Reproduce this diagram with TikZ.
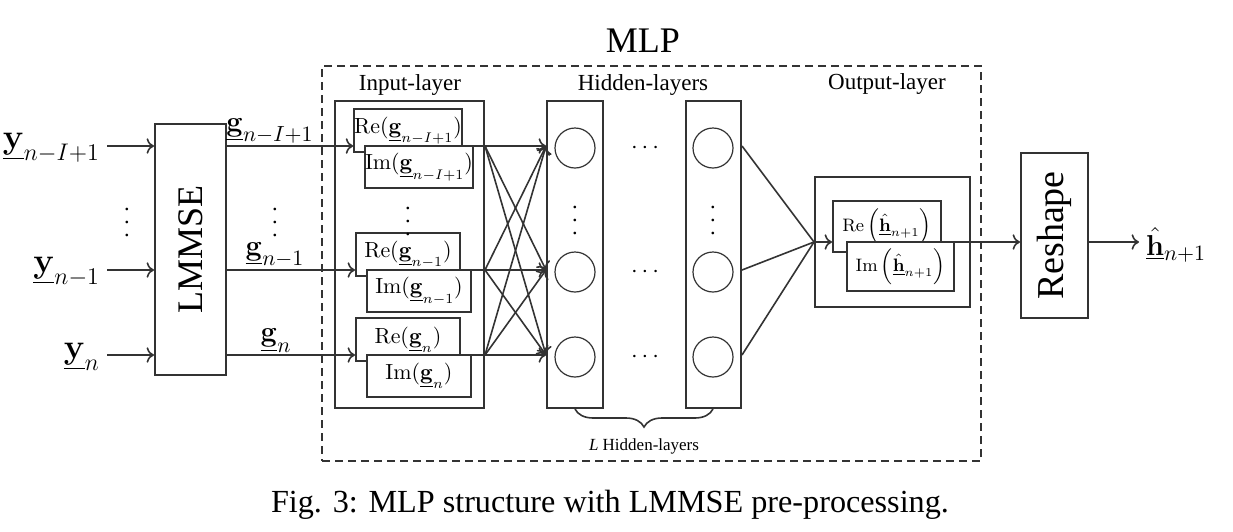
\documentclass[tikz,border=0pt]{standalone}
\usepackage[no-math]{fontspec}
\setmainfont{Liberation Serif}
\usetikzlibrary{arrows.meta}
\usetikzlibrary{decorations.pathreplacing}

\tikzset{
  blk/.style={draw=black!80, line width=1pt, fill=white, inner sep=0pt},
  neuron/.style={draw=black!80, line width=0.6pt, circle, minimum size=20pt, inner sep=0pt},
  wire/.style={draw=black!80, line width=0.8pt},
  >={To[scale=1.1]},
}

\begin{document}
\begin{tikzpicture}[x=0.5pt,y=-0.5pt]
  \useasboundingbox (0,0) rectangle (1233,531);
  % row levels
  \coordinate (rI) at (0,146);
  \coordinate (r1) at (0,270);
  \coordinate (rn) at (0,355);
  \coordinate (ro) at (0,242);

  % MLP frame
  \node[draw=black!80, line width=1pt, dash pattern=on 4pt off 2.5pt, minimum width=329.5pt, minimum height=197.5pt] (mlp) at (651.5,263.5) {};
  \node[font=\fontsize{18}{20}\selectfont] (mlptxt) at (643,41) {MLP};

  % LMMSE
  \node[blk, minimum width=35.5pt, minimum height=125.5pt, font=\fontsize{18}{20}\selectfont] (lmmse) at (190.5,249.5) {\rotatebox{90}{LMMSE}};
  \node[anchor=east, font=\fontsize{17}{19}\selectfont] (yI) at (107,148) {$\underline{\mathbf{y}}_{n-I+1}$};
  \node[anchor=east, font=\fontsize{17}{19}\selectfont] (y1) at (107,272) {$\underline{\mathbf{y}}_{n-1}$};
  \node[anchor=east, font=\fontsize{17}{19}\selectfont] (yn) at (107,357) {$\underline{\mathbf{y}}_{n}$};
  \node[font=\fontsize{7}{8}\selectfont] (ydots) at (127,213) {\scalebox{1.6}{$\vdots$}};
  \draw[wire,->] (yI.east |- rI) -- (rI -| lmmse.west);
  \draw[wire,->] (y1.east |- r1) -- (r1 -| lmmse.west);
  \draw[wire,->] (yn.east |- rn) -- (rn -| lmmse.west);

  % input layer
  \node[blk, minimum width=74.5pt, minimum height=153.5pt] (inp) at (409.5,254.5) {};
  \node[font=\fontsize{11.5}{13}\selectfont] (inptxt) at (410,85) {Input-layer};
  \node[blk, minimum width=52pt, minimum height=21.5pt, font=\fontsize{10.5}{12}\selectfont] (reI) at (408,130.5) {$\mathrm{Re}(\underline{\mathbf{g}}_{n-I+1})$};
  \node[blk, minimum width=52pt, minimum height=21pt, font=\fontsize{10.5}{12}\selectfont] (imI) at (419,167) {$\mathrm{Im}(\underline{\mathbf{g}}_{n-I+1})$};
  \node[blk, minimum width=52pt, minimum height=21.5pt, font=\fontsize{10.5}{12}\selectfont] (re1) at (408,254.5) {$\mathrm{Re}(\underline{\mathbf{g}}_{n-1})$};
  \node[blk, minimum width=52pt, minimum height=21pt, font=\fontsize{10.5}{12}\selectfont] (im1) at (419,291) {$\mathrm{Im}(\underline{\mathbf{g}}_{n-1})$};
  \node[blk, minimum width=52pt, minimum height=21.5pt, font=\fontsize{10.5}{12}\selectfont] (ren) at (408,339.5) {$\mathrm{Re}(\underline{\mathbf{g}}_{n})$};
  \node[blk, minimum width=52pt, minimum height=21pt, font=\fontsize{10.5}{12}\selectfont] (imn) at (419,376) {$\mathrm{Im}(\underline{\mathbf{g}}_{n})$};
  \node[font=\fontsize{7}{8}\selectfont] (idots) at (408,212) {\scalebox{1.6}{$\vdots$}};

  % LMMSE outputs
  \node[anchor=south, inner sep=1pt, font=\fontsize{15}{17}\selectfont] (gI) at (270,146) {$\underline{\mathbf{g}}_{n-I+1}$};
  \node[anchor=south, inner sep=1pt, font=\fontsize{15}{17}\selectfont] (g1) at (275,270) {$\underline{\mathbf{g}}_{n-1}$};
  \node[anchor=south, inner sep=1pt, font=\fontsize{15}{17}\selectfont] (gn) at (276,355) {$\underline{\mathbf{g}}_{n}$};
  \node[font=\fontsize{7}{8}\selectfont] (gdots) at (275,213) {\scalebox{1.6}{$\vdots$}};
  \draw[wire,->] (rI -| lmmse.east) -- (rI -| reI.west);
  \draw[wire,->] (r1 -| lmmse.east) -- (r1 -| re1.west);
  \draw[wire,->] (rn -| lmmse.east) -- (rn -| ren.west);
  \draw[wire] (rI -| imI.east) -- (rI -| inp.east);
  \draw[wire] (r1 -| im1.east) -- (r1 -| inp.east);
  \draw[wire] (rn -| imn.east) -- (rn -| inp.east);

  % hidden layers
  \node[blk, minimum width=28pt, minimum height=153.5pt] (h1) at (575,254.5) {};
  \node[blk, minimum width=27.5pt, minimum height=153.5pt] (h2) at (713.5,254.5) {};
  \node[font=\fontsize{11.5}{13}\selectfont] (hidtxt) at (643,85) {Hidden-layers};
  \node[neuron] (c11) at (575,148) {};
  \node[neuron] (c12) at (575,272) {};
  \node[neuron] (c13) at (575,357) {};
  \node[neuron] (c21) at (713,148) {};
  \node[neuron] (c22) at (713,272) {};
  \node[neuron] (c23) at (713,357) {};
  \node[font=\fontsize{13}{15}\selectfont] (cd1) at (645,148) {$\cdots$};
  \node[font=\fontsize{13}{15}\selectfont] (cd2) at (645,272) {$\cdots$};
  \node[font=\fontsize{13}{15}\selectfont] (cd3) at (645,357) {$\cdots$};
  \node[font=\fontsize{7}{8}\selectfont] (vd1) at (575,211) {\scalebox{1.6}{$\vdots$}};
  \node[font=\fontsize{7}{8}\selectfont] (vd2) at (713,211) {\scalebox{1.6}{$\vdots$}};
  \draw[wire, decorate, decoration={brace, amplitude=9pt}] (c23 |- h2.south) -- (c13 |- h1.south);
  \node[font=\fontsize{8.5}{10}\selectfont] (ltxt) at (644,446) {\textit{L} Hidden-layers};

  % full connection input -> hidden
  \draw[wire,->] (rI -| inp.east) -- (rI -| h1.west);
  \draw[wire,->] (rI -| inp.east) -- (r1 -| h1.west);
  \draw[wire,->] (rI -| inp.east) -- (rn -| h1.west);
  \draw[wire,->] (r1 -| inp.east) -- (rI -| h1.west);
  \draw[wire,->] (r1 -| inp.east) -- (r1 -| h1.west);
  \draw[wire,->] (r1 -| inp.east) -- (rn -| h1.west);
  \draw[wire,->] (rn -| inp.east) -- (rI -| h1.west);
  \draw[wire,->] (rn -| inp.east) -- (r1 -| h1.west);
  \draw[wire,->] (rn -| inp.east) -- (rn -| h1.west);

  % output layer
  \node[blk, minimum width=77.5pt, minimum height=65pt] (outl) at (892.5,242) {};
  \node[font=\fontsize{11.5}{13}\selectfont] (outtxt) at (887,84) {Output-layer};
  \node[blk, minimum width=54pt, minimum height=25.5pt, font=\fontsize{9}{11}\selectfont] (oRe) at (887,226.5) {$\mathrm{Re}\,\Bigl(\underline{\hat{\mathbf{h}}}_{n+1}\Bigr)$};
  \node[blk, minimum width=53.5pt, minimum height=24.5pt, font=\fontsize{9}{11}\selectfont] (oIm) at (900.5,266.5) {$\mathrm{Im}\,\Bigl(\underline{\hat{\mathbf{h}}}_{n+1}\Bigr)$};
  \draw[wire] (rI -| h2.east) -- (ro -| outl.west);
  \draw[wire] (r1 -| h2.east) -- (ro -| outl.west);
  \draw[wire] (rn -| h2.east) -- (ro -| outl.west);
  \draw[wire,->] (ro -| outl.west) -- (ro -| oRe.west);

  % reshape
  \node[blk, minimum width=33.5pt, minimum height=82.5pt, font=\fontsize{19}{21}\selectfont] (reshape) at (1054.5,235.5) {\rotatebox{90}{Reshape}};
  \node[anchor=west, font=\fontsize{15.5}{17}\selectfont] (hout) at (1139,245) {$\underline{\hat{\mathbf{h}}}_{n+1}$};
  \draw[wire,->] (ro -| oIm.east) -- (ro -| reshape.west);
  \draw[wire,->] (ro -| reshape.east) -- (ro -| hout.west);

  % caption
  \node[font=\fontsize{16.1}{18}\selectfont] (cap) at (610,505) {Fig. 3: MLP structure with LMMSE pre-processing.};
\end{tikzpicture}
\end{document}
